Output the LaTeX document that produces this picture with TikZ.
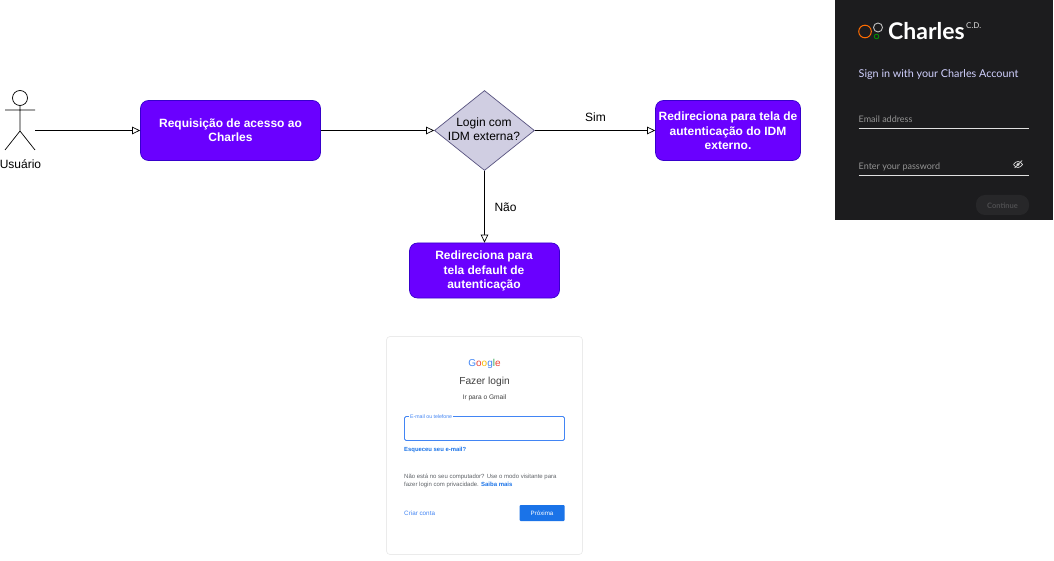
\documentclass[tikz,border=0pt]{standalone}
\usepackage{fontspec}
\setmainfont{Liberation Sans}
\newfontfamily\latofont{Lato}
\usetikzlibrary{arrows.meta,shapes.geometric}
\definecolor{violetbox}{HTML}{6A00FF}
\definecolor{violetline}{HTML}{3700CC}
\definecolor{diamfill}{HTML}{D0CEE2}
\definecolor{diamline}{HTML}{56517E}
\definecolor{panel}{HTML}{1C1C1E}
\definecolor{gblue}{HTML}{1A73E8}
\definecolor{gred}{HTML}{EA4335}
\definecolor{gyellow}{HTML}{FBBC05}
\definecolor{ggreen}{HTML}{34A853}
\definecolor{glink}{HTML}{4285F4}
\definecolor{ggray}{HTML}{5F6368}
\tikzset{
  x=1pt,y=-1pt,
  flowbox/.style={draw=violetline,fill=violetbox,rounded corners=8pt,inner sep=0pt,line width=.7pt},
  boxtext/.style={text=white,font=\fontsize{12}{14.4}\selectfont\bfseries,align=center,inner sep=0pt},
  decision/.style={diamond,draw=diamline,fill=diamfill,aspect=1.25,inner sep=0pt,line width=.7pt},
  link/.style={draw=black,line width=.7pt,-{Triangle[open,fill=white,length=8pt,width=7.5pt]}},
  plain/.style={font=\fontsize{12}{14.4}\selectfont,inner sep=0pt,align=center},
  actorline/.style={draw=black,line width=.7pt},
  panelline/.style={draw=white!88!black,line width=.9pt},
  paneltext/.style={font=\latofont\fontsize{9}{11}\selectfont,text=white!58!black,anchor=west,inner sep=0pt},
}
\begin{document}
\begin{tikzpicture}
\useasboundingbox (0,0) rectangle (1054,561);
% actor
\node[circle,draw=black,line width=.7pt,minimum size=15pt,inner sep=0pt] (head) at (20,98) {};
\coordinate (hip) at (20,131);
\coordinate (footl) at (5,150);
\coordinate (footr) at (35,150);
\coordinate (arml) at (5,110);
\coordinate (armr) at (35,110);
\draw[actorline] (head.south) -- (hip) -- (footl) (hip) -- (footr) (arml) -- (armr);
\node[plain] (actorlabel) at (20.5,164) {Usuário};
\coordinate (actorout) at (35,130.5);
% boxes
\node[flowbox,minimum width=180pt,minimum height=60pt] (req) at (230.5,130.5) {};
\node[boxtext] (reqlabel) at (230.5,130.5) {Requisição de acesso ao\\Charles};
\node[decision,minimum width=100pt,minimum height=80pt] (dec) at (484.5,130.5) {};
\node[plain] (declabel) at (484,129) {Login com\\IDM externa?};
\node[flowbox,minimum width=145pt,minimum height=60pt] (idm) at (728,130.5) {};
\node[boxtext] (idmlabel) at (728,131) {Redireciona para tela de\\autenticação do IDM\\externo.};
\node[flowbox,minimum width=150pt,minimum height=55pt] (def) at (484.5,270.5) {};
\node[boxtext] (deflabel) at (484,271) {Redireciona para\\tela default de\\autenticação};
% links
\draw[link] (actorout) -- (req.west);
\draw[link] (req.east) -- (dec.west);
\draw[link] (dec.east) -- (idm.west);
\draw[link] (dec.south) -- (def.north);
\node[plain] (sim) at (595.5,117) {Sim};
\node[plain] (nao) at (505.5,207) {Não};
% Charles panel
\fill[panel] (835,0) rectangle (1053,220);
\draw[draw=orange!85!red,line width=1pt] (865,31.5) circle (6.3);
\draw[draw=white!75!black,line width=.9pt] (878,27.5) circle (4.5);
\draw[draw=green!60!black,line width=.8pt] (876.5,36.5) circle (2.3);
\node[font=\latofont\bfseries\fontsize{23}{24}\selectfont,text=white,anchor=west,inner sep=0pt] (brand) at (888,31) {Charles};
\node[font=\latofont\fontsize{8}{9}\selectfont,text=white!85!black,anchor=west,inner sep=0pt] (cd) at (966,25.5) {C.D.};
\node[font=\latofont\fontsize{10.8}{13}\selectfont,text=white!82!blue,anchor=west,inner sep=0pt] (signin) at (858.5,75) {Sign in with your Charles Account};
\node[paneltext] (email) at (858.5,119) {Email address};
\draw[panelline] (858.5,128.5) -- (1029,128.5);
\node[paneltext] (pass) at (858.5,166.5) {Enter your password};
\draw[panelline] (858.5,175.5) -- (1029,175.5);
% eye icon
\draw[draw=white!85!black,line width=.7pt] (1013.5,164.5) .. controls (1016,160.5) and (1020,160.5) .. (1022.5,164.5) .. controls (1020,168.5) and (1016,168.5) .. (1013.5,164.5);
\fill[white!85!black] (1018,164.5) circle (1.6);
\draw[draw=white!85!black,line width=.7pt] (1014.5,168) -- (1022,160.5);
\fill[white!5!panel] (976,195) [rounded corners=9pt] rectangle (1029,215);
\node[font=\latofont\bfseries\fontsize{7.5}{9}\selectfont,text=white!22!panel,inner sep=0pt] (cont) at (1002.5,205.5) {Continue};
% Google card
\draw[draw=black!8,fill=white,rounded corners=3.5pt,line width=.7pt] (386.5,336.5) rectangle (582.5,554.5);
\node[font=\fontsize{10}{11}\selectfont,inner sep=0pt] (google) at (484.5,363.5) {\textcolor{glink}{G}\textcolor{gred}{o}\textcolor{gyellow}{o}\textcolor{glink}{g}\textcolor{ggreen}{l}\textcolor{gred}{e}};
\node[font=\fontsize{10.2}{12}\selectfont,text=black!75,inner sep=0pt] (fazer) at (484.5,382) {Fazer login};
\node[font=\fontsize{6.6}{8}\selectfont,text=black!75,inner sep=0pt] (irpara) at (484.5,397.5) {Ir para o Gmail};
\draw[draw=glink,line width=.9pt,rounded corners=1.5pt] (404.5,416.5) rectangle (564.5,440.5);
\node[fill=white,font=\fontsize{5.2}{6}\selectfont,text=glink,inner sep=1pt,anchor=west] (emailg) at (409,416.5) {E-mail ou telefone};
\node[font=\bfseries\fontsize{5.9}{7}\selectfont,text=gblue,inner sep=0pt,anchor=west] (esq) at (404,449.5) {Esqueceu seu e-mail?};
\node[font=\fontsize{6}{8.6}\selectfont,text=ggray,inner sep=0pt,anchor=west,align=left] (nao2) at (404,481) {Não está no seu computador? Use o modo visitante para\\fazer login com privacidade. \textcolor{gblue}{\bfseries Saiba mais}};
\node[font=\fontsize{6.3}{7}\selectfont,text=glink,inner sep=0pt,anchor=west] (criar) at (404,513) {Criar conta};
\node[fill=gblue,font=\fontsize{6.2}{7}\selectfont,text=white,inner sep=0pt,minimum width=45pt,minimum height=16pt,rounded corners=1pt] (prox) at (542,513) {Próxima};
\end{tikzpicture}
\end{document}
